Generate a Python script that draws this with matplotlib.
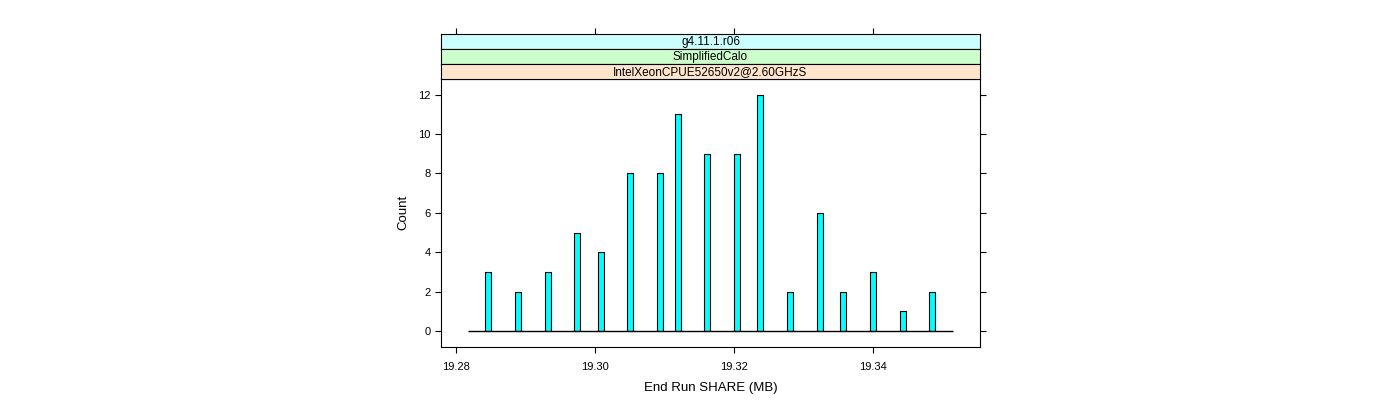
import matplotlib
matplotlib.use("Agg")
import matplotlib.pyplot as plt

# data
share = [19.28464, 19.28896, 19.29316, 19.29744, 19.30082, 19.30506, 19.30937,
         19.31188, 19.31613, 19.32037, 19.32375, 19.32807, 19.33229, 19.33569,
         19.34000, 19.34423, 19.34848]
counts = [3, 2, 3, 5, 4, 8, 8, 11, 9, 9, 12, 2, 6, 2, 3, 1, 2]
base_range = [19.28168, 19.35150]
xticks = [19.28, 19.30, 19.32, 19.34]
yticks = [0, 2, 4, 6, 8, 10, 12]
strips = ["g4.11.1.r06", "SimplifiedCalo", "IntelXeonCPUE52650v2@2.60GHzS"]
strip_cols = ["#ccffff", "#ccffcc", "#ffe5cc"]

plt.rcParams['font.family'] = ['Liberation Sans', 'DejaVu Sans']

fig = plt.figure(figsize=(14, 4), dpi=100)
xlim = (19.27784, 19.35534)

ax = fig.add_axes([0.315, 0.1333, 0.385, 0.6692])
ax.hlines(0, base_range[0], base_range[1], color='black', lw=1)
ax.bar(share, counts, width=0.00086, color='#00ffff', edgecolor='black', lw=0.8)
ax.set_xlim(xlim)
ax.set_ylim(-0.8, 12.8)
ax.set_xticks(xticks)
ax.set_xticklabels(["%.2f" % v for v in xticks])
ax.set_yticks(yticks)
ax.tick_params(axis='both', labelsize=8, direction='out', length=4, width=0.8)
ax.tick_params(axis='x', pad=7)
ax.tick_params(axis='y', right=True)
ax.set_xlabel('End Run SHARE (MB)', fontsize=9.5, labelpad=7)
ax.set_ylabel('Count', fontsize=9.5, labelpad=6)
for s in ax.spines.values():
    s.set_linewidth(0.8)

# strips
h = 15 / 400.0
for i, (txt, col) in enumerate(zip(strips, strip_cols)):
    bottom = 0.8025 + (2 - i) * h
    sa = fig.add_axes([0.315, bottom, 0.385, h])
    sa.set_facecolor(col)
    sa.set_xlim(xlim)
    sa.set_yticks([])
    if i == 0:
        sa.set_xticks(xticks)
        sa.tick_params(axis='x', top=True, bottom=False, labeltop=False,
                       labelbottom=False, direction='out', length=4, width=0.8)
    else:
        sa.set_xticks([])
    for s in sa.spines.values():
        s.set_linewidth(0.8)
    sa.text(0.5, 0.45, txt, transform=sa.transAxes, ha='center', va='center',
            fontsize=8.5)

plt.savefig('out.png', dpi=100)
